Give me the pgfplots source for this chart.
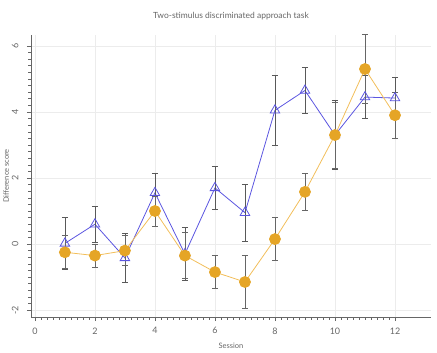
\documentclass[border=0pt]{standalone}
\usepackage{pgfplots}
\pgfplotsset{compat=1.18}
\usepackage{fontspec}
\setmainfont{Lato}
\definecolor{orng}{HTML}{E5A526}
\definecolor{orngline}{HTML}{F2BE5A}
\definecolor{blu}{HTML}{5B55E0}
\definecolor{txt}{HTML}{666666}
\definecolor{gridc}{HTML}{ECECEC}
\begin{document}
\begin{tikzpicture}[x=1bp,y=1bp]
\path[use as bounding box] (-31,-35) rectangle (406,317);
\begin{axis}[
  at={(0,0)}, anchor=south west,
  scale only axis, width=400bp, height=282bp,
  xmin=-0.13, xmax=13.2, ymin=-2.21, ymax=6.33,
  axis lines=left, axis line style={-, draw=txt, line width=0.6pt},
  xtick={0,2,...,12}, ytick={-2,0,2,4,6},
  minor tick num=9,
  tick align=outside,
  major tick length=4bp, minor tick length=2.5bp,
  tick style={draw=txt, line width=0.5pt},
  grid=major, major grid style={draw=gridc, line width=0.6pt},
  /pgf/number format/assume math mode=true,
  ticklabel style={font=\fontsize{9}{10}\selectfont, text=txt},
  yticklabel style={rotate=90, anchor=south, yshift=5bp},
  xticklabel style={yshift=-3bp},
  xlabel={Session}, ylabel={Difference score},
  xlabel style={font=\fontsize{7.5}{8}\selectfont, text=txt, yshift=-2bp},
  ylabel style={font=\fontsize{7.5}{8}\selectfont, text=txt,
    at={(axis description cs:-0.062,0.5)}, anchor=center},
  title={Two-stimulus discriminated approach task},
  title style={font=\fontsize{8.5}{10}\selectfont, text=txt, yshift=6bp},
  clip=false,
]
% blue: open triangles
\addplot+[blu, line width=0.8pt, mark=triangle, mark size=5.5bp,
  mark options={draw=blu, fill=white, line width=0.8pt},
  error bars/.cd, y dir=both, y explicit,
  error bar style={draw=black!65, line width=0.6pt},
  error mark options={rotate=90, mark size=3bp, draw=black!65, line width=0.6pt}]
  coordinates {
  (1,0.02) +- (0,0.78)
  (2,0.6) +- (0,0.55)
  (3,-0.42) +- (0,0.75)
  (4,1.55) +- (0,0.6)
  (5,-0.3) +- (0,0.8)
  (6,1.7) +- (0,0.65)
  (7,0.95) +- (0,0.87)
  (8,4.05) +- (0,1.05)
  (9,4.65) +- (0,0.7)
  (10,3.3) +- (0,1.05)
  (11,4.45) +- (0,0.65)
  (12,4.42) +- (0,0.64)
  };
% orange: filled circles
\addplot+[orngline, line width=0.8pt, mark=*, mark size=5.5bp,
  mark options={draw=orng, fill=orng},
  error bars/.cd, y dir=both, y explicit,
  error bar style={draw=black!60, line width=0.6pt},
  error mark options={rotate=90, mark size=3bp, draw=black!60, line width=0.6pt}]
  coordinates {
  (1,-0.25) +- (0,0.5)
  (2,-0.35) +- (0,0.35)
  (3,-0.2) +- (0,0.45)
  (4,1.0) +- (0,0.45)
  (5,-0.35) +- (0,0.7)
  (6,-0.85) +- (0,0.5)
  (7,-1.15) +- (0,0.8)
  (8,0.15) +- (0,0.65)
  (9,1.58) +- (0,0.55)
  (10,3.3) +- (0,1.0)
  (11,5.3) +- (0,1.05)
  (12,3.9) +- (0,0.7)
  };
\end{axis}
\end{tikzpicture}
\end{document}
